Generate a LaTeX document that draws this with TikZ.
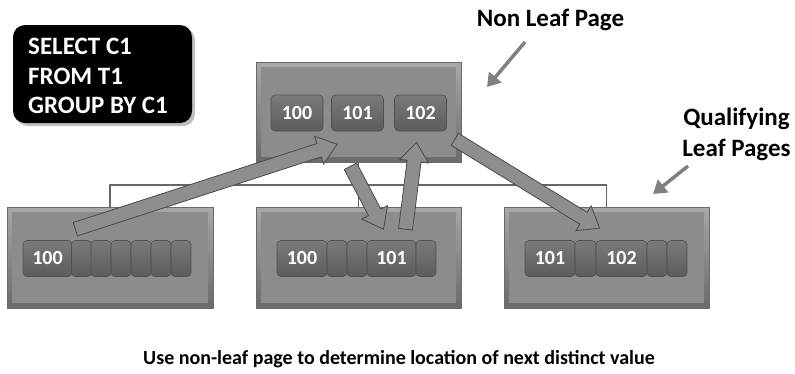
\documentclass[tikz,border=0pt]{standalone}
\usepackage{fontspec}
\setmainfont{Carlito}
\usetikzlibrary{calc,arrows.meta}
\definecolor{pagefill}{HTML}{8C8C8C}
\definecolor{pagelight}{HTML}{A8A8A8}
\definecolor{pagedark}{HTML}{6A6A6A}
\definecolor{keytop}{HTML}{7A7A7A}
\definecolor{keybot}{HTML}{5C5C5C}
\definecolor{keyedge}{HTML}{505050}
\definecolor{arrowfill}{HTML}{8E8E8E}
\definecolor{arrowedge}{HTML}{4A4A4A}
\definecolor{linecol}{HTML}{666666}
\definecolor{callcol}{HTML}{808080}
\tikzset{
  page/.style={rectangle, draw=pagedark, line width=0.8pt, top color=pagelight, bottom color=pagedark, inner sep=0pt},
  key/.style={rectangle, rounded corners=4pt, draw=keyedge, line width=0.6pt, top color=keytop, bottom color=keybot,
    minimum height=36pt, inner sep=0pt, text=white, font=\bfseries\fontsize{20}{20}\selectfont},
  cell/.style={key, minimum width=20pt},
  sqlbox/.style={rectangle, rounded corners=12pt, fill=black, minimum width=179pt, minimum height=98pt},
  sqlshadow/.style={rectangle, rounded corners=12pt, fill=black!25, minimum width=179pt, minimum height=98pt},
  sqltext/.style={text=white, font=\bfseries\fontsize{25}{29.5}\selectfont, align=left, inner sep=0pt},
  label/.style={font=\bfseries\fontsize{25}{31}\selectfont, inner sep=0pt, align=center},
  bottomtext/.style={font=\bfseries\fontsize{20}{24}\selectfont, inner sep=0pt},
  tree/.style={draw=linecol, line width=1.6pt},
  blockarr/.style={fill=arrowfill, draw=arrowedge, line width=0.8pt, line join=miter},
  callarrow/.style={draw=callcol, line width=3.5pt, -{Triangle[length=13pt,width=16pt]}}
}
\newcommand\pagebevel[1]{%
  \fill[pagefill] ($(#1.south west)+(5,-5)$) rectangle ($(#1.north east)+(-5,5)$);}
\newcommand\blockarrow[2]{%
  \coordinate (ba-n) at ($(#2)!19pt!(#1)$);
  \filldraw[blockarr] ($(#1)!7pt!90:(#2)$) -- ($(ba-n)!7pt!90:(#2)$) -- ($(ba-n)!14.5pt!90:(#2)$) -- (#2)
    -- ($(ba-n)!14.5pt!-90:(#2)$) -- ($(ba-n)!7pt!-90:(#2)$) -- ($(#1)!7pt!-90:(#2)$) -- cycle;}
\begin{document}
\begin{tikzpicture}[x=1pt,y=-1pt]
\useasboundingbox (0,0) rectangle (795,373);
% SQL box
\node[sqlshadow] (sqlsh) at (105.5,77) {};
\node[sqlbox] (sql) at (102.5,74) {};
\node[sqltext, anchor=north west] (sqlt) at (28,38) {SELECT C1\\FROM T1\\GROUP BY C1};
% pages
\node[page, minimum width=205pt, minimum height=100pt] (nl) at (358.5,112) {};
\node[page, minimum width=206pt, minimum height=101pt] (ll) at (110,257.5) {};
\node[page, minimum width=205pt, minimum height=101pt] (rl) at (606.5,257.5) {};
\pagebevel{nl}\pagebevel{ll}\pagebevel{rl}
% tree lines
\coordinate (bus) at (358.5,185);
\coordinate (mltop) at (358.5,207);
\draw[tree] (ll.north) |- (bus) -| (rl.north);
\draw[tree] (nl.south) -- (mltop);
\node[page, minimum width=205pt, minimum height=101pt] (ml) at (358.5,257.5) {};
\pagebevel{ml}
% non-leaf keys
\node[key, minimum width=52pt] (n100) at (297,113) {100};
\node[key, minimum width=52pt] (n101) at (357.5,113) {101};
\node[key, minimum width=52pt] (n102) at (420.5,113) {102};
% left leaf keys
\node[key, minimum width=49pt] (l100) at (47.5,258.5) {100};
\foreach \i/\x in {1/81.5,2/101,3/121,4/141,5/161,6/181}
  \node[cell] (lc\i) at (\x,258.5) {};
% middle leaf keys
\node[key, minimum width=50pt] (m100) at (302,258.5) {100};
\node[cell] (mc1) at (337,258.5) {};
\node[cell] (mc2) at (357,258.5) {};
\node[key, minimum width=49pt] (m101) at (391.5,258.5) {101};
\node[cell] (mc3) at (426,258.5) {};
% right leaf keys
\node[key, minimum width=50pt] (r101) at (550,258.5) {101};
\node[cell, minimum width=21pt] (rc1) at (585.5,258.5) {};
\node[key, minimum width=51pt] (r102) at (621.5,258.5) {102};
\node[cell] (rc2) at (657,258.5) {};
\node[cell] (rc3) at (677,258.5) {};
% block arrows
\coordinate (a1s) at ($(l100.north east)+(3,-11)$);
\coordinate (a1e) at ($(n101.south west)+(6,13)$);
\coordinate (a2s) at ($(n101.south)+(-7,35)$);
\coordinate (a2e) at ($(m101.north)+(-8,-11)$);
\coordinate (a3s) at ($(m101.north)+(14,-11)$);
\coordinate (a3e) at ($(n102.south)+(-4,11)$);
\coordinate (a4s) at ($(n102.south east)+(8,8)$);
\coordinate (a4e) at ($(r102.north west)+(4,-12)$);
\blockarrow{a1s}{a1e}
\blockarrow{a2s}{a2e}
\blockarrow{a3s}{a3e}
\blockarrow{a4s}{a4e}
% labels
\node[label, anchor=base] (lbnl) at (550.5,26) {Non Leaf Page};
\node[label, anchor=north] (lbql) at (736.5,108) {Qualifying\\Leaf Pages};
\coordinate (c1s) at (525,42);
\coordinate (c1e) at (487,87);
\coordinate (c2s) at (688,166);
\coordinate (c2e) at (653,194);
\draw[callarrow] (c1s) -- (c1e);
\draw[callarrow] (c2s) -- (c2e);
\node[bottomtext, anchor=base] (bt) at (399,364) {Use non-leaf page to determine location of next distinct value};
\end{tikzpicture}
\end{document}
